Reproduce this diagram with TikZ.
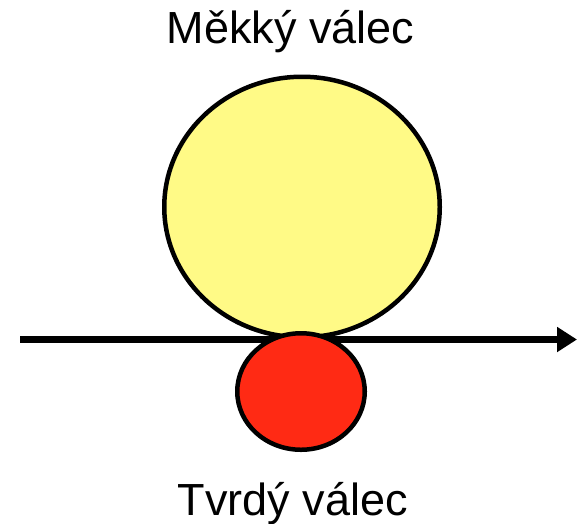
\documentclass[tikz,border=0pt]{standalone}
\usepackage{fontspec}
\setmainfont{Liberation Sans}
\usepackage{tikz}
\usetikzlibrary{arrows.meta,positioning,shapes.geometric}
\definecolor{SoftYellow}{HTML}{FFFA86}
\definecolor{HardRed}{HTML}{FF2A14}

\begin{document}
\begin{tikzpicture}[
x=1pt,y=-1pt,
roll/.style={draw=black,ellipse,line width=4.5pt,inner sep=0pt},
lbl/.style={font=\fontsize{45}{52}\selectfont,inner sep=0pt,anchor=base},
arr/.style={-{Triangle[length=20pt,width=24pt]},line width=7pt}
]
\useasboundingbox (0,0) rectangle (577,523);
\coordinate (start) at (20,339.5);
\coordinate (stop) at (577,339.5);
\draw[arr] (start) -- (stop);
\node[roll,fill=SoftYellow,minimum width=275.5pt,minimum height=260.5pt] (soft) at (302,207) {};
\node[roll,fill=HardRed,minimum width=127.5pt,minimum height=116.5pt] (hard) at (301,391.5) {};
\node[lbl] (softlbl) at (290.5,43) {Měkký válec};
\node[lbl] (hardlbl) at (293,515) {Tvrdý válec};
\end{tikzpicture}
\end{document}
